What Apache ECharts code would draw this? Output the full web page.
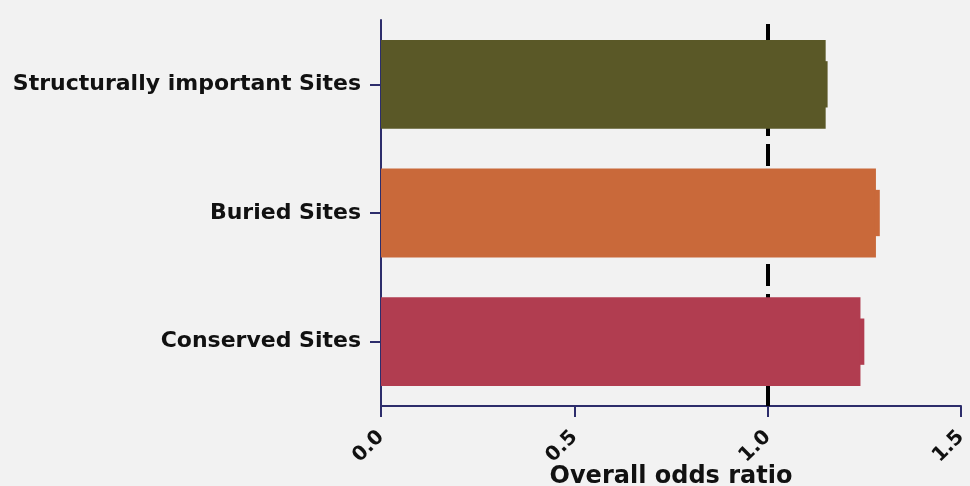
<!DOCTYPE html>
<html>
<head>
<meta charset="utf-8">
<script src="https://cdn.jsdelivr.net/npm/echarts@6/dist/echarts.min.js"></script>
<style>
  html, body { margin: 0; padding: 0; background: #f2f2f2; }
  #chart { width: 970px; height: 486px; }
</style>
</head>
<body>
<div id="chart"></div>
<script>
// Site categories, listed bottom to top on the category axis
const categories = ['Conserved Sites', 'Buried Sites', 'Structurally important Sites'];
// Overall odds ratio per category and the upper end of its error bar
const oddsRatio = [1.24, 1.28, 1.15];
const upperError = [1.25, 1.29, 1.155];
const barColors = ['#b13d50', '#c9693a', '#5a5827'];
const xTicks = [0, 0.5, 1.0, 1.5];
const referenceOR = 1.0;

const font = '"DejaVu Sans", sans-serif';
const axisColor = '#2d2d6b';

const chart = echarts.init(document.getElementById('chart'));
chart.setOption({
  backgroundColor: '#f2f2f2',
  animation: false,
  grid: { left: 381, right: 9, top: 20, bottom: 80, outerBoundsMode: 'none', containLabel: false },
  xAxis: {
    type: 'value',
    min: xTicks[0],
    max: xTicks[xTicks.length - 1],
    interval: 0.5,
    name: 'Overall odds ratio',
    nameLocation: 'middle',
    nameGap: 59,
    nameMoveOverlap: false,
    nameTextStyle: { fontFamily: font, fontWeight: 'bold', fontSize: 24, color: '#111' },
    axisLine: { show: true, lineStyle: { color: axisColor, width: 2 } },
    axisTick: { show: true, length: 11, lineStyle: { color: axisColor, width: 2 } },
    axisLabel: {
      rotate: 45,
      margin: 28,
      fontFamily: font, fontWeight: 'bold', fontSize: 20, color: '#111',
      formatter: v => v.toFixed(1)
    },
    splitLine: { show: false }
  },
  yAxis: {
    type: 'category',
    data: categories,
    axisLine: { show: true, lineStyle: { color: axisColor, width: 2 } },
    axisTick: { show: true, alignWithLabel: true, length: 11, lineStyle: { color: axisColor, width: 2 } },
    axisLabel: { margin: 20, fontFamily: font, fontWeight: 'bold', fontSize: 22, color: '#111' }
  },
  series: [{
    type: 'bar',
    barWidth: '69%',
    data: oddsRatio.map((v, i) => ({ value: v, itemStyle: { color: barColors[i] } })),
    z: 3,
    markLine: {
      silent: true,
      symbol: 'none',
      z: 1,
      label: { show: false },
      lineStyle: { color: '#000', width: 4, type: [22, 8] },
      data: [{ xAxis: referenceOR }]
    }
  }, {
    // error bar end drawn in the bar's own colour
    type: 'custom',
    z: 4,
    silent: true,
    data: upperError.map((u, i) => [oddsRatio[i], u, i]),
    encode: { x: [0, 1], y: 2 },
    renderItem: (params, api) => {
      const idx = api.value(2);
      const start = api.coord([api.value(0), idx]);
      const end = api.coord([api.value(1), idx]);
      const h = api.size([0, 1])[1] * 0.36;
      return {
        type: 'rect',
        shape: { x: start[0] - 1, y: start[1] - h / 2, width: end[0] - start[0] + 1, height: h },
        style: { fill: barColors[idx] }
      };
    }
  }]
});
</script>
</body>
</html>
